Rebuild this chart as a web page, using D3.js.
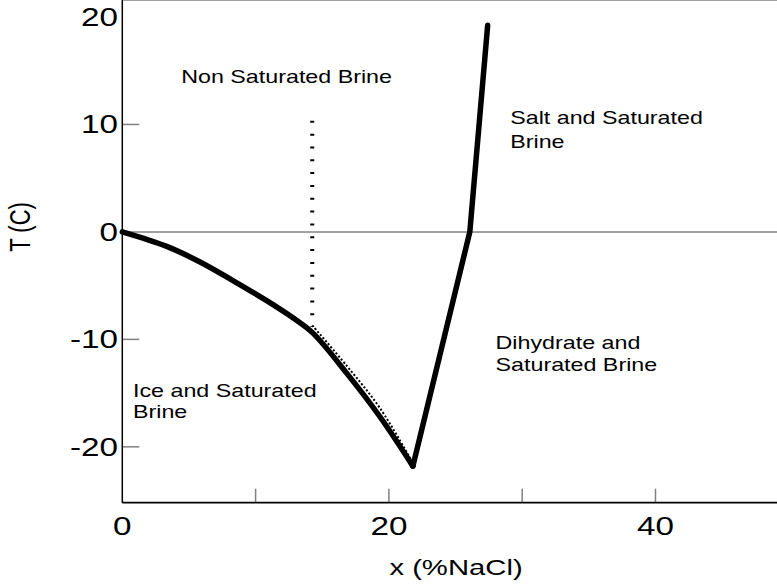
<!doctype html>
<html>
<head>
<meta charset="UTF-8">
<script src="https://cdn.jsdelivr.net/npm/d3@7"></script>
<style>
  body { margin: 0; background: #fff; }
  text { font-family: "Liberation Sans", Arial, sans-serif; fill: #000; }
</style>
</head>
<body>
<svg width="777" height="584"></svg>
<script>
// ice + saturated brine boundary (liquidus), then salt line
var iceX = [0, 3.33, 5.83, 8.33, 10.83, 12.83, 14.3, 16.83, 19.33, 21.8];
var iceT = [0, -1.35, -2.8, -4.55, -6.4, -8.02, -9.42, -13.14, -17.2, -21.8];
var saltX = [21.8, 26.07, 27.41];
var saltT = [-21.8, 0, 19.24];

// dotted lines
var vertX = [14.25, 14.25];
var vertT = [10.34, -8.83];
var diagX = [14.25, 16.83, 19.33, 21.8];
var diagT = [-8.7, -12.45, -16.4, -21.5];

var xTicks = [10, 20, 30, 40];
var xLabels = [0, 20, 40];
var yTicks = [-20, -10, 0, 10, 20];

var regionText = ["Non Saturated Brine", "Salt and Saturated", "Brine", "Dihydrate and",
                  "Saturated Brine", "Ice and Saturated", "Brine"];
var regionX = [4.42, 29.1, 29.1, 28.0, 28.0, 0.8, 0.8];
var regionT = [13.85, 10.0, 7.85, -10.9, -12.95, -15.35, -17.3];

var SX = 1.33; // text in the picture is stretched horizontally

var svg = d3.select("svg");
var x = d3.scaleLinear().domain([0, 50]).range([122.3, 122.3 + 50 * 13.33]);
var y = d3.scaleLinear().domain([-25.2, 20]).range([502.7, 17]);

var left = x(0), right = 777, bottom = y(-25.2), top = y(20);

// frame + grid lines
svg.append("line").attr("x1", left).attr("x2", right).attr("y1", top).attr("y2", top)
  .attr("stroke", "#808080").attr("stroke-width", 1.5);
svg.append("line").attr("x1", left).attr("x2", right).attr("y1", y(0)).attr("y2", y(0))
  .attr("stroke", "#808080").attr("stroke-width", 1.5);

svg.selectAll(".ytick").data(yTicks.filter(function(d) { return d != 0 && d != 20; }))
  .enter().append("line")
  .attr("x1", left).attr("x2", left + 17)
  .attr("y1", function(d) { return y(d); }).attr("y2", function(d) { return y(d); })
  .attr("stroke", "#808080").attr("stroke-width", 1.5);

svg.selectAll(".xtick").data(xTicks).enter().append("line")
  .attr("x1", function(d) { return x(d); }).attr("x2", function(d) { return x(d); })
  .attr("y1", bottom).attr("y2", bottom - 14)
  .attr("stroke", "#808080").attr("stroke-width", 1.5);

svg.append("line").attr("x1", left).attr("x2", left).attr("y1", top).attr("y2", bottom)
  .attr("stroke", "#000").attr("stroke-width", 1.5);
svg.append("line").attr("x1", left).attr("x2", right).attr("y1", bottom).attr("y2", bottom)
  .attr("stroke", "#000").attr("stroke-width", 1.8);

// tick labels
svg.selectAll(".ylab").data(yTicks).enter().append("text")
  .attr("transform", function(d) { return "translate(118," + (y(d) + 9) + ") scale(" + SX + ",1)"; })
  .attr("text-anchor", "end").attr("font-size", 25)
  .text(function(d) { return d; });

svg.selectAll(".xlab").data(xLabels).enter().append("text")
  .attr("transform", function(d) { return "translate(" + x(d) + ",535) scale(" + SX + ",1)"; })
  .attr("text-anchor", "middle").attr("font-size", 25)
  .text(function(d) { return d; });

// axis titles
svg.append("text")
  .attr("transform", "translate(456,575) scale(" + SX + ",1)")
  .attr("text-anchor", "middle").attr("font-size", 22)
  .text("x (%NaCl)");
svg.append("text")
  .attr("transform", "translate(30,227) scale(" + SX + ",1) rotate(-90)")
  .attr("text-anchor", "middle").attr("font-size", 22)
  .text("T (C)");

// curves
var line = d3.line().x(function(d) { return x(d[0]); }).y(function(d) { return y(d[1]); });
var smooth = d3.line().curve(d3.curveCatmullRom.alpha(0.5))
  .x(function(d) { return x(d[0]); }).y(function(d) { return y(d[1]); });

svg.append("path").datum(d3.zip(vertX, vertT))
  .attr("d", line).attr("fill", "none").attr("stroke", "#000")
  .attr("stroke-width", 4).attr("stroke-dasharray", "2,10.83");

svg.append("path").datum(d3.zip(iceX, iceT))
  .attr("d", smooth).attr("fill", "none").attr("stroke", "#000")
  .attr("stroke-width", 5.5).attr("stroke-linejoin", "round").attr("stroke-linecap", "round");
svg.append("path").datum(d3.zip(saltX, saltT))
  .attr("d", line).attr("fill", "none").attr("stroke", "#000")
  .attr("stroke-width", 5.5).attr("stroke-linejoin", "round").attr("stroke-linecap", "round");

svg.append("path").datum(d3.zip(diagX, diagT))
  .attr("d", smooth).attr("fill", "none").attr("stroke", "#000")
  .attr("stroke-width", 2).attr("stroke-dasharray", "2,2");

// region labels
svg.selectAll(".region").data(regionText).enter().append("text")
  .attr("transform", function(d, i) {
    return "translate(" + x(regionX[i]) + "," + y(regionT[i]) + ") scale(" + SX + ",1)";
  })
  .attr("font-size", 17.5)
  .text(function(d) { return d; });
</script>
</body>
</html>
